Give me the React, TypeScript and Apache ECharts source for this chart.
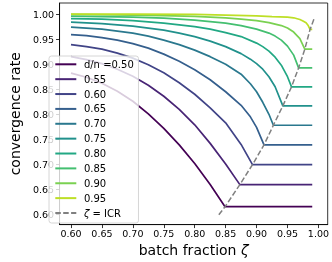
import React, { useEffect, useRef } from 'react';
import * as echarts from 'echarts';

const FONT = 'DejaVu Sans';

const seriesNames = ['d/n =0.50', '0.55', '0.60', '0.65', '0.70', '0.75', '0.80', '0.85', '0.90', '0.95'];
const seriesColors = ['#440154', '#482475', '#414487', '#355f8d', '#2a788e', '#21918c', '#22a884', '#44bf70', '#7ad151', '#bddf26'];
const icrName = 'ζ = ICR';

const xTicks = [0.6, 0.65, 0.7, 0.75, 0.8, 0.85, 0.9, 0.95, 1.0];
const yTicks = [0.6, 0.65, 0.7, 0.75, 0.8, 0.85, 0.9, 0.95, 1.0];

// kink points (where each curve meets ζ = ICR)
const kinkZeta = [0.849, 0.873, 0.8934, 0.912, 0.9272, 0.9425, 0.9565, 0.968, 0.978, 0.9865];
const kinkRate = [0.6157, 0.6597, 0.6996, 0.7389, 0.7782, 0.8169, 0.8548, 0.8927, 0.93, 0.9694];
const zetaEnd = 0.99;
const icrStart = [0.839, 0.5995];
const icrEnd = [0.994, 0.994];

const curve050 = [[0.6, 0.882], [0.625, 0.874], [0.65, 0.862], [0.675, 0.846], [0.7, 0.826], [0.725, 0.801], [0.75, 0.772], [0.775, 0.739], [0.8, 0.702], [0.825, 0.66]];
const curve055 = [[0.6, 0.915], [0.625, 0.909], [0.65, 0.901], [0.675, 0.89], [0.7, 0.876], [0.725, 0.858], [0.75, 0.836], [0.775, 0.81], [0.8, 0.779], [0.825, 0.742], [0.85, 0.701]];
const curve060 = [[0.6, 0.939], [0.625, 0.935], [0.65, 0.93], [0.675, 0.922], [0.7, 0.912], [0.725, 0.899], [0.75, 0.883], [0.775, 0.863], [0.8, 0.84], [0.825, 0.813], [0.85, 0.783], [0.875, 0.74]];
const curve065 = [[0.6, 0.959], [0.625, 0.957], [0.65, 0.953], [0.675, 0.948], [0.7, 0.941], [0.725, 0.932], [0.75, 0.92], [0.775, 0.906], [0.8, 0.889], [0.825, 0.869], [0.85, 0.845], [0.875, 0.818], [0.89, 0.795], [0.9, 0.774]];
const curve070 = [[0.6, 0.974], [0.65, 0.97], [0.7, 0.962], [0.725, 0.956], [0.75, 0.948], [0.775, 0.939], [0.8, 0.928], [0.825, 0.915], [0.85, 0.9], [0.875, 0.88], [0.89, 0.861], [0.9, 0.845], [0.91, 0.824], [0.92, 0.8]];
const curve075 = [[0.6, 0.984], [0.65, 0.981], [0.7, 0.976], [0.75, 0.968], [0.775, 0.962], [0.8, 0.955], [0.825, 0.946], [0.85, 0.935], [0.875, 0.921], [0.89, 0.91], [0.9, 0.901], [0.91, 0.89], [0.92, 0.875], [0.93, 0.855]];
const curve080 = [[0.6, 0.991], [0.65, 0.99], [0.7, 0.987], [0.75, 0.982], [0.8, 0.975], [0.825, 0.97], [0.85, 0.963], [0.875, 0.955], [0.9, 0.942], [0.91, 0.935], [0.92, 0.926], [0.93, 0.914], [0.94, 0.898], [0.95, 0.875]];
const curve085 = [[0.6, 0.996], [0.7, 0.994], [0.75, 0.992], [0.8, 0.988], [0.85, 0.982], [0.875, 0.977], [0.9, 0.97], [0.92, 0.962], [0.93, 0.956], [0.94, 0.948], [0.95, 0.936], [0.96, 0.918]];
const curve090 = [[0.6, 0.9993], [0.7, 0.998], [0.75, 0.997], [0.8, 0.9955], [0.85, 0.9925], [0.875, 0.99], [0.9, 0.987], [0.92, 0.983], [0.94, 0.977], [0.95, 0.972], [0.96, 0.964], [0.97, 0.951]];
const curve095 = [[0.6, 1.0], [0.7, 0.9998], [0.8, 0.9992], [0.85, 0.998], [0.9, 0.9965], [0.925, 0.995], [0.95, 0.994], [0.96, 0.9925], [0.97, 0.989], [0.975, 0.986], [0.98, 0.9825], [0.9835, 0.977]];

const curves = [curve050, curve055, curve060, curve065, curve070, curve075, curve080, curve085, curve090, curve095];

export default function App() {
  const ref = useRef<HTMLDivElement>(null);
  useEffect(() => {
    if (!ref.current) return;
    const chart = echarts.init(ref.current, null, { renderer: 'svg' });
    const lineSeries = curves.map((c, i) => ({
      name: seriesNames[i],
      type: 'line',
      data: [...c, [kinkZeta[i], kinkRate[i]], [zetaEnd, kinkRate[i]]],
      symbol: 'none',
      showSymbol: false,
      lineStyle: { color: seriesColors[i], width: 1.7 },
      itemStyle: { color: seriesColors[i] },
      clip: true,
      z: 2,
    }));
    const icrData = [icrStart, ...kinkZeta.map((z, i) => [z, kinkRate[i]]), icrEnd];
    const option = {
      animation: false,
      textStyle: { fontFamily: FONT },
      grid: { left: 45, top: 3, right: 4.3, bottom: 34, show: true, borderColor: '#000', borderWidth: 0.8, backgroundColor: 'transparent' },
      xAxis: {
        type: 'value',
        min: 0.5815,
        max: 1.015,
        name: 'batch fraction {i|ζ}',
        nameLocation: 'middle',
        nameGap: 17,
        nameTextStyle: { fontSize: 14, color: '#000', fontFamily: FONT, rich: { i: { fontSize: 14, fontStyle: 'italic', fontFamily: FONT, color: '#000' } } },
        axisLine: { show: true, onZero: false, lineStyle: { color: '#000', width: 0.8 } },
        axisTick: { show: true, inside: false, length: 3.5, customValues: xTicks, lineStyle: { color: '#000', width: 0.8 } },
        axisLabel: { customValues: xTicks, formatter: (v: number) => v.toFixed(2), fontSize: 9.5, color: '#000', margin: 3.5, fontFamily: FONT },
        splitLine: { show: false },
      },
      yAxis: {
        type: 'value',
        min: 0.58,
        max: 1.022,
        name: 'convergence rate',
        nameLocation: 'middle',
        nameGap: 33,
        nameTextStyle: { fontSize: 14, color: '#000', fontFamily: FONT },
        axisLine: { show: true, onZero: false, lineStyle: { color: '#000', width: 0.8 } },
        axisTick: { show: true, inside: false, length: 3.5, customValues: yTicks, lineStyle: { color: '#000', width: 0.8 } },
        axisLabel: { customValues: yTicks, formatter: (v: number) => v.toFixed(2), fontSize: 9.5, color: '#000', margin: 5.5, fontFamily: FONT },
        splitLine: { show: false },
      },
      legend: {
        orient: 'vertical',
        left: 49,
        top: 56,
        itemWidth: 21,
        itemHeight: 10,
        itemGap: 4.87,
        padding: [3.3, 4.7, 5, 5.3],
        backgroundColor: 'rgba(255,255,255,0.8)',
        borderColor: '#cccccc',
        borderWidth: 0.8,
        borderRadius: 2.5,
        itemStyle: { color: 'rgba(0,0,0,0)', borderColor: 'rgba(0,0,0,0)', borderWidth: 0 },
        lineStyle: { width: 2 },
        data: [...seriesNames, icrName],
        formatter: (name: string) => (name === icrName ? '{i|ζ} = ICR' : name),
        textStyle: { fontSize: 10, color: '#000', fontFamily: FONT, padding: [0, 0, 0, 2.6], rich: { i: { fontSize: 10, fontStyle: 'italic', fontFamily: FONT, color: '#000' } } },
      },
      series: [
        ...lineSeries,
        {
          name: icrName,
          type: 'line',
          data: icrData,
          symbol: 'none',
          showSymbol: false,
          lineStyle: { color: '#808080', width: 1.5, type: [5.5, 2.4] },
          itemStyle: { color: '#808080' },
          clip: true,
          z: 3,
        },
      ],
    };
    chart.setOption(option as any);
    return () => chart.dispose();
  }, []);
  return <div ref={ref} style={{ position: 'fixed', left: 0, top: 0, width: 332, height: 262 }} />;
}
